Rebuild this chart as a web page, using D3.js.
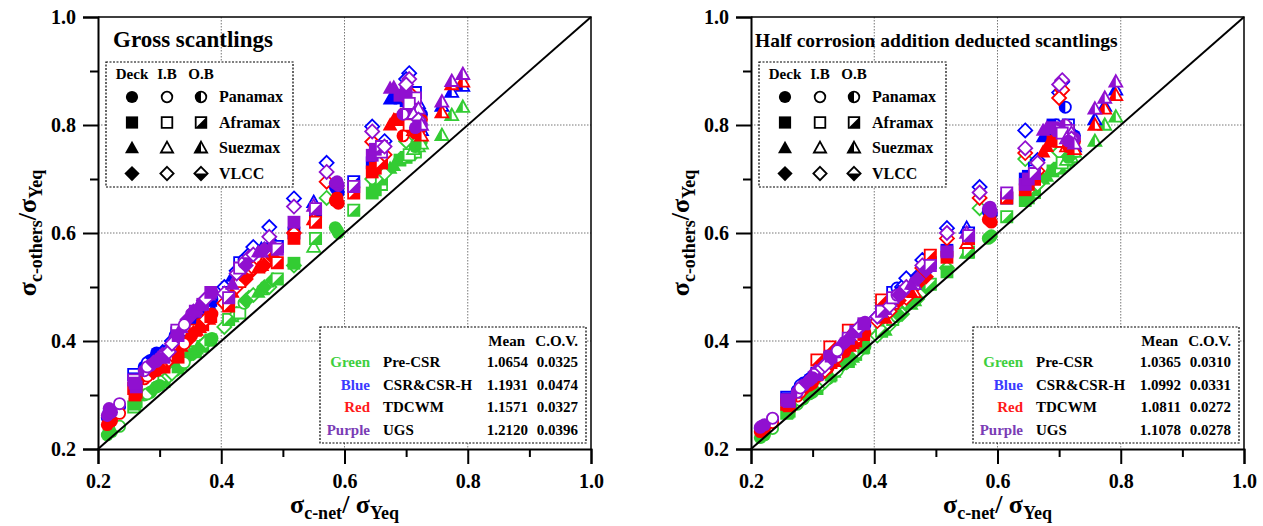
<!DOCTYPE html>
<html>
<head>
<meta charset="utf-8">
<script src="https://cdn.jsdelivr.net/npm/d3@7"></script>
<style>
  body { margin: 0; background: #fff; }
  text { font-family: "Liberation Serif", "Times New Roman", serif; font-weight: bold; }
</style>
</head>
<body>
<div id="chart"></div>
<script>
// ship type (P=Panamax, A=Aframax, S=Suezmax, V=VLCC) and location (D=Deck, I=I.B, O=O.B)
const memberShip = ["P","P","P","A","A","P","P","P","V","A","V","P","A","S","V","P","A","S","V","S","P","V","S","A","V","A","P","V","V","S","V","V","A","V","A","S","A","V","P","P","A","V","A","A","S","A","V","P","A","S","P","S","S","S",
                    "P","A","P","V","P","V","A","P","V","S","A","V","A","V","S","V","P","A","S","A","V","P","A","S","V","P","A","V","S"];
const memberLoc  = ["D","D","I","I","D","O","I","D","D","O","I","D","O","D","D","D","O","D","I","D","D","I","D","O","I","I","I","O","I","O","I","D","O","I","D","I","O","I","D","D","O","I","D","I","D","D","I","O","I","I","D","O","O","O",
                    "D","D","I","D","D","I","D","I","D","D","D","I","D","D","D","D","D","D","D","D","I","O","I","I","O","D","O","I","O"];
const sigmaNet   = [0.215,0.222,0.235,0.258,0.262,0.275,0.285,0.295,0.305,0.307,0.315,0.325,0.328,0.335,0.345,0.352,0.358,0.365,0.372,0.380,0.385,0.405,0.418,0.412,0.425,0.430,0.437,0.445,0.452,0.465,0.478,0.484,0.491,0.518,0.518,0.550,0.553,0.571,0.585,0.590,0.615,0.645,0.645,0.660,0.674,0.690,0.705,0.710,0.715,0.720,0.725,0.758,0.774,0.792,
                    0.218,0.260,0.280,0.290,0.300,0.320,0.330,0.340,0.355,0.360,0.370,0.375,0.383,0.440,0.460,0.470,0.588,0.650,0.680,0.700,0.700,0.695,0.705,0.712,0.720,0.715,0.660,0.665,0.725];

// gross scantlings
const grossGreen  = [0.226,0.232,0.242,0.278,0.288,0.300,0.305,0.315,0.322,0.325,0.335,0.345,0.350,0.355,0.370,0.375,0.380,0.390,0.395,0.400,0.405,0.426,0.445,0.440,0.450,0.452,0.470,0.480,0.485,0.495,0.500,0.513,0.515,0.540,0.544,0.574,0.590,0.665,0.610,0.600,0.642,0.700,0.674,0.690,0.720,0.735,0.780,0.745,0.750,0.760,0.770,0.781,0.818,0.833,
                     0.236,0.283,0.302,0.310,0.318,0.340,0.352,0.360,0.378,0.385,0.390,0.398,0.402,0.475,0.490,0.500,0.605,0.680,0.725,0.740,0.770,0.740,0.745,0.755,0.770,0.760,0.700,0.710,0.765];
const grossBlue   = [0.258,0.262,0.278,0.338,0.325,0.352,0.364,0.378,0.380,0.375,0.385,0.410,0.415,0.420,0.430,0.440,0.445,0.455,0.460,0.470,0.478,0.500,0.520,0.490,0.530,0.545,0.550,0.560,0.574,0.570,0.611,0.580,0.575,0.664,0.600,0.657,0.640,0.730,0.685,0.675,0.695,0.797,0.730,0.760,0.848,0.850,0.896,0.820,0.860,0.840,0.820,0.835,0.861,0.872,
                     0.270,0.330,0.360,0.368,0.370,0.400,0.405,0.420,0.445,0.450,0.455,0.465,0.475,0.545,0.565,0.570,0.680,0.740,0.855,0.845,0.885,0.810,0.830,0.820,0.800,0.805,0.750,0.770,0.790];
const grossRed    = [0.245,0.252,0.266,0.312,0.305,0.330,0.340,0.345,0.355,0.352,0.365,0.380,0.385,0.390,0.400,0.410,0.420,0.425,0.435,0.440,0.450,0.470,0.490,0.465,0.500,0.510,0.520,0.525,0.535,0.540,0.555,0.554,0.545,0.600,0.590,0.625,0.620,0.695,0.660,0.655,0.674,0.769,0.713,0.730,0.800,0.810,0.860,0.790,0.820,0.800,0.810,0.823,0.875,0.880,
                     0.258,0.300,0.335,0.342,0.350,0.375,0.370,0.395,0.415,0.420,0.430,0.440,0.445,0.515,0.535,0.540,0.665,0.720,0.810,0.820,0.850,0.780,0.800,0.790,0.790,0.785,0.730,0.745,0.780];
const grossPurple = [0.262,0.268,0.284,0.328,0.315,0.345,0.355,0.362,0.375,0.370,0.380,0.405,0.420,0.425,0.440,0.450,0.455,0.465,0.475,0.485,0.490,0.488,0.505,0.480,0.525,0.535,0.545,0.555,0.560,0.565,0.593,0.574,0.570,0.649,0.620,0.650,0.645,0.713,0.692,0.688,0.686,0.788,0.744,0.750,0.868,0.855,0.885,0.830,0.850,0.830,0.800,0.843,0.881,0.894,
                     0.275,0.322,0.352,0.360,0.368,0.395,0.410,0.430,0.455,0.460,0.468,0.478,0.490,0.540,0.565,0.570,0.695,0.755,0.870,0.860,0.875,0.820,0.840,0.820,0.810,0.795,0.760,0.760,0.800];

// half corrosion addition deducted scantlings
const halfGreen  = [0.221,0.226,0.238,0.266,0.270,0.283,0.293,0.302,0.312,0.312,0.320,0.330,0.335,0.342,0.352,0.358,0.362,0.370,0.378,0.385,0.390,0.410,0.420,0.418,0.430,0.440,0.445,0.450,0.470,0.475,0.490,0.500,0.505,0.535,0.528,0.563,0.565,0.646,0.590,0.595,0.630,0.737,0.660,0.675,0.700,0.715,0.760,0.725,0.735,0.740,0.750,0.770,0.800,0.815,
                    0.224,0.268,0.290,0.298,0.305,0.325,0.337,0.345,0.360,0.365,0.375,0.380,0.388,0.448,0.468,0.478,0.592,0.665,0.705,0.720,0.750,0.720,0.730,0.735,0.745,0.740,0.680,0.690,0.750];
const halfBlue   = [0.238,0.243,0.254,0.296,0.290,0.308,0.322,0.330,0.340,0.340,0.350,0.360,0.368,0.375,0.388,0.395,0.400,0.410,0.418,0.425,0.430,0.445,0.455,0.460,0.465,0.490,0.498,0.500,0.516,0.510,0.550,0.530,0.545,0.609,0.568,0.609,0.600,0.685,0.640,0.635,0.665,0.790,0.700,0.720,0.778,0.800,0.880,0.833,0.800,0.790,0.780,0.810,0.835,0.865,
                    0.240,0.293,0.318,0.325,0.335,0.355,0.370,0.380,0.398,0.405,0.412,0.420,0.428,0.490,0.505,0.520,0.645,0.705,0.785,0.790,0.860,0.800,0.790,0.780,0.775,0.770,0.715,0.735,0.760];
const halfRed    = [0.232,0.237,0.249,0.283,0.280,0.298,0.312,0.318,0.330,0.365,0.340,0.350,0.389,0.362,0.375,0.380,0.420,0.395,0.405,0.410,0.415,0.437,0.442,0.476,0.455,0.470,0.475,0.480,0.480,0.490,0.535,0.519,0.559,0.590,0.555,0.581,0.590,0.665,0.625,0.620,0.665,0.748,0.680,0.700,0.750,0.770,0.865,0.780,0.775,0.765,0.770,0.800,0.830,0.855,
                    0.235,0.283,0.305,0.315,0.322,0.345,0.360,0.370,0.385,0.390,0.400,0.408,0.412,0.475,0.490,0.505,0.630,0.690,0.760,0.770,0.850,0.775,0.770,0.760,0.765,0.760,0.700,0.715,0.755];
const halfPurple = [0.240,0.245,0.257,0.291,0.288,0.305,0.318,0.327,0.343,0.338,0.350,0.360,0.370,0.378,0.390,0.398,0.405,0.415,0.420,0.430,0.435,0.445,0.458,0.455,0.465,0.480,0.485,0.490,0.500,0.505,0.540,0.531,0.540,0.600,0.565,0.600,0.595,0.675,0.645,0.640,0.674,0.757,0.690,0.710,0.790,0.795,0.883,0.800,0.790,0.785,0.775,0.830,0.850,0.880,
                    0.243,0.290,0.313,0.322,0.332,0.355,0.372,0.382,0.400,0.410,0.418,0.425,0.432,0.485,0.505,0.515,0.648,0.700,0.795,0.790,0.875,0.790,0.785,0.775,0.775,0.770,0.710,0.730,0.765];

const methodNames  = ["Pre-CSR", "CSR&CSR-H", "TDCWM", "UGS"];
const colorNames   = ["Green", "Blue", "Red", "Purple"];
const grossMean = ["1.0654", "1.1931", "1.1571", "1.2120"];
const grossCov  = ["0.0325", "0.0474", "0.0327", "0.0396"];
const halfMean  = ["1.0365", "1.0992", "1.0811", "1.1078"];
const halfCov   = ["0.0310", "0.0331", "0.0272", "0.0278"];

const shipNames = ["Panamax", "Aframax", "Suezmax", "VLCC"];
const shipCodes = ["P", "A", "S", "V"];
const locCodes  = ["D", "I", "O"];
const locNames  = ["Deck", "I.B", "O.B"];

const majorTicks = [0.2, 0.4, 0.6, 0.8, 1.0];
const minorTicks = [0.3, 0.5, 0.7, 0.9];
const gridTicks  = [0.4, 0.6, 0.8];

const markColors = ["#33cc33", "#0000ff", "#ff0000", "#9010d0"];
const textColors = ["#3ecf3e", "#3a3aff", "#ff1a1a", "#7a3cb5"];

const W = 1263, H = 526;
const svg = d3.select("#chart").append("svg")
  .attr("width", W).attr("height", H);

// marker shape paths
function shapePath(ship, r) {
  if (ship === "P") return `M${-r},0A${r},${r} 0 1,0 ${r},0A${r},${r} 0 1,0 ${-r},0Z`;
  if (ship === "A") return `M${-r},${-r}H${r}V${r}H${-r}Z`;
  if (ship === "S") {
    const w = r * 1.15, t = r * 1.2, b = r * 0.85;
    return `M0,${-t}L${w},${b}L${-w},${b}Z`;
  }
  const d = r * 1.25;
  return `M0,${-d}L${d},0L0,${d}L${-d},0Z`;
}
function halfPath(ship, r) {
  if (ship === "P") return `M0,${-r}A${r},${r} 0 0,0 0,${r}Z`;
  if (ship === "A") return `M${r},${-r}L${r},${r}L${-r},${r}Z`;
  if (ship === "S") {
    const w = r * 1.15, t = r * 1.2, b = r * 0.85;
    return `M0,${-t}L${-w},${b}L0,${b}Z`;
  }
  const d = r * 1.25;
  return `M${-d},0L${d},0L0,${d}Z`;
}
function addMarker(g, ship, loc, color, cx, cy, r) {
  const m = g.append("g").attr("transform", `translate(${cx},${cy})`);
  if (loc === "D") {
    m.append("path").attr("d", shapePath(ship, r + 0.8)).attr("fill", color);
  } else {
    m.append("path").attr("d", shapePath(ship, r)).attr("fill", "#fff")
      .attr("stroke", color).attr("stroke-width", 1.8);
    if (loc === "O") m.append("path").attr("d", halfPath(ship, r)).attr("fill", color);
  }
}

function drawPanel(left, title, titleDx, titleSize, series, means, covs) {
  const right = left + 493, top = 17, bottom = 449;
  const x = d3.scaleLinear().domain([0.2, 1.0]).range([left, right]);
  const y = d3.scaleLinear().domain([0.2, 1.0]).range([bottom, top]);
  const g = svg.append("g");

  // grid
  g.selectAll(".gx").data(gridTicks).enter().append("line")
    .attr("x1", d => x(d)).attr("x2", d => x(d)).attr("y1", top).attr("y2", bottom)
    .attr("stroke", "#777").attr("stroke-width", 1).attr("stroke-dasharray", "1.5,1.5");
  g.selectAll(".gy").data(gridTicks).enter().append("line")
    .attr("x1", left).attr("x2", right).attr("y1", d => y(d)).attr("y2", d => y(d))
    .attr("stroke", "#777").attr("stroke-width", 1).attr("stroke-dasharray", "1.5,1.5");

  // points
  const pts = g.append("g");
  series.forEach((vals, k) => {
    vals.forEach((v, i) => {
      addMarker(pts, memberShip[i], memberLoc[i], markColors[k], x(sigmaNet[i]), y(v), 5.6);
    });
  });

  // diagonal
  g.append("line").attr("x1", x(0.2)).attr("y1", y(0.2)).attr("x2", x(1.0)).attr("y2", y(1.0))
    .attr("stroke", "#000").attr("stroke-width", 2);

  // frame
  g.append("path").attr("d", `M${left},${top}H${right}V${bottom}`)
    .attr("fill", "none").attr("stroke", "#000").attr("stroke-width", 1.5);

  // axes
  const fmt = d3.format(".1f");
  g.append("g").attr("transform", `translate(0,${bottom})`)
    .call(d3.axisBottom(x).tickValues(majorTicks).tickSize(15).tickPadding(10).tickFormat(fmt));
  g.append("g").attr("transform", `translate(0,${bottom})`)
    .call(d3.axisBottom(x).tickValues(minorTicks).tickSize(8).tickFormat(""))
    .call(s => s.select(".domain").remove());
  g.append("g").attr("transform", `translate(${left},0)`)
    .call(d3.axisLeft(y).tickValues(majorTicks).tickSize(15).tickPadding(7).tickFormat(fmt));
  g.append("g").attr("transform", `translate(${left},0)`)
    .call(d3.axisLeft(y).tickValues(minorTicks).tickSize(8).tickFormat(""))
    .call(s => s.select(".domain").remove());
  g.selectAll(".domain").attr("stroke-width", 2);
  g.selectAll(".tick line").attr("stroke-width", 2);
  g.selectAll(".tick text").attr("font-family", "Liberation Serif, Times New Roman, serif")
    .attr("font-weight", "bold").attr("font-size", 20).attr("fill", "#000");

  // title
  g.append("text").attr("x", left + titleDx).attr("y", 47)
    .attr("font-size", titleSize).text(title);

  // symbol legend
  const lg = g.append("g").attr("transform", `translate(${left + 8},62)`);
  lg.append("rect").attr("width", 187).attr("height", 125).attr("fill", "#fff")
    .attr("stroke", "#000").attr("stroke-width", 1.2).attr("stroke-dasharray", "2,1.5");
  const colX = [26, 61, 95];
  lg.selectAll(".hd").data(locNames).enter().append("text")
    .attr("x", (d, i) => colX[i]).attr("y", 17).attr("text-anchor", "middle")
    .attr("font-size", 15).text(d => d);
  shipCodes.forEach((s, r) => {
    const cy = 35 + r * 25.5;
    locCodes.forEach((l, c) => addMarker(lg, s, l, "#000", colX[c], cy, 5.3));
    lg.append("text").attr("x", 113).attr("y", cy + 5).attr("font-size", 16).text(shipNames[r]);
  });

  // statistics box
  const sb = g.append("g").attr("transform", `translate(${left + 222},327)`);
  sb.append("rect").attr("width", 266).attr("height", 116).attr("fill", "#fff")
    .attr("stroke", "#000").attr("stroke-width", 1.2).attr("stroke-dasharray", "2,1.5");
  sb.append("text").attr("x", 205).attr("y", 19).attr("text-anchor", "end").attr("font-size", 15).text("Mean");
  sb.append("text").attr("x", 258).attr("y", 19).attr("text-anchor", "end").attr("font-size", 15).text("C.O.V.");
  methodNames.forEach((m, i) => {
    const by = 40 + i * 22.5;
    sb.append("text").attr("x", 50).attr("y", by).attr("text-anchor", "end")
      .attr("font-size", 15).attr("fill", textColors[i]).text(colorNames[i]);
    sb.append("text").attr("x", 63).attr("y", by).attr("font-size", 15).text(m);
    sb.append("text").attr("x", 208).attr("y", by).attr("text-anchor", "end").attr("font-size", 15).text(means[i]);
    sb.append("text").attr("x", 258).attr("y", by).attr("text-anchor", "end").attr("font-size", 15).text(covs[i]);
  });

  // axis labels
  const xl = g.append("text").attr("x", (left + right) / 2).attr("y", 513).attr("text-anchor", "middle");
  xl.append("tspan").attr("font-size", 26).text("σ");
  xl.append("tspan").attr("font-size", 18).attr("dy", 6).text("c-net");
  xl.append("tspan").attr("font-size", 26).attr("dy", -6).text("/ σ");
  xl.append("tspan").attr("font-size", 18).attr("dy", 6).text("Yeq");

  const yl = g.append("text").attr("transform", `translate(${left - 62},${(top + bottom) / 2}) rotate(-90)`)
    .attr("text-anchor", "middle");
  yl.append("tspan").attr("font-size", 26).text("σ");
  yl.append("tspan").attr("font-size", 18).attr("dy", 6).text("c-others");
  yl.append("tspan").attr("font-size", 26).attr("dy", -6).text("/σ");
  yl.append("tspan").attr("font-size", 18).attr("dy", 6).text("Yeq");
}

drawPanel(98, "Gross scantlings", 15, 23, [grossGreen, grossBlue, grossRed, grossPurple], grossMean, grossCov);
drawPanel(751, "Half corrosion addition deducted scantlings", 4, 19.5, [halfGreen, halfBlue, halfRed, halfPurple], halfMean, halfCov);
</script>
</body>
</html>
